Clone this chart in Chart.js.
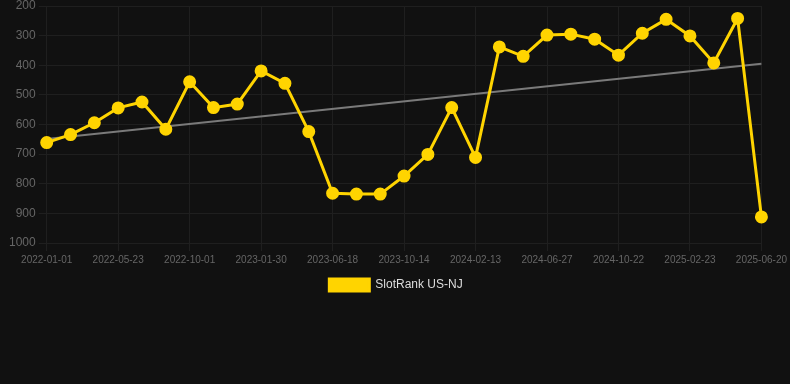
<!DOCTYPE html>
<html>
<head>
<meta charset="utf-8">
<script src="https://cdn.jsdelivr.net/npm/chart.js@4"></script>
<style>
  html, body { margin: 0; padding: 0; background: #111111; overflow: hidden; }
  #wrap { width: 790px; height: 303px; margin-top: -2px; position: relative; }
</style>
</head>
<body>
<div id="wrap"><canvas id="plot-rank"></canvas></div>
<script>
// dates of each sample (every 3rd one shows as a tick)
const dates = [
  '2022-01-01', '2022-02-16', '2022-04-07', '2022-05-23', '2022-07-08', '2022-08-16',
  '2022-10-01', '2022-11-15', '2022-12-20', '2023-01-30', '2023-03-17', '2023-05-02',
  '2023-06-18', '2023-08-01', '2023-08-30', '2023-10-14', '2023-11-26', '2024-01-01',
  '2024-02-13', '2024-03-30', '2024-05-14', '2024-06-27', '2024-08-10', '2024-09-08',
  '2024-10-22', '2024-12-05', '2025-01-12', '2025-02-23', '2025-04-06', '2025-05-15',
  '2025-06-20'
];
const rankNJ = [
  661, 634, 594, 544, 524, 616, 456, 543, 531, 419, 461, 624,
  832, 835, 835, 774, 701, 543, 711, 338, 370, 298, 295, 312,
  366, 292, 245, 301, 392, 242, 912
];
// trend line, read at its two ends
const trendStart = 649;
const trendEnd = 395;

const trendData = dates.map((d, i) => i === 0 ? trendStart : (i === dates.length - 1 ? trendEnd : null));

const ctx = document.getElementById('plot-rank').getContext('2d');
const chart = new Chart(ctx, {
  type: 'line',
  data: {
    labels: dates,
    datasets: [{
      label: 'SlotRank US-NJ',
      data: rankNJ,
      borderColor: '#ffd400',
      backgroundColor: '#ffd400',
      borderWidth: 3,
      pointRadius: 5,
      pointHoverRadius: 5,
      tension: 0
    }, {
      label: 'trend',
      data: trendData,
      borderColor: '#7a7a7a',
      borderWidth: 2,
      pointRadius: 0,
      spanGaps: true
    }]
  },
  options: {
    responsive: true,
    maintainAspectRatio: false,
    animation: false,
    layout: { padding: { left: 6, right: 4, top: 0, bottom: 0 } },
    plugins: {
      legend: {
        position: 'bottom',
        labels: {
          color: '#dddddd',
          font: { size: 12 },
          boxWidth: 40,
          boxHeight: 12,
          filter: item => item.text !== 'trend'
        }
      },
      tooltip: { enabled: false }
    },
    scales: {
      x: {
        grid: { color: '#1f1f1f', drawTicks: true },
        border: { display: false },
        ticks: { color: '#666666', font: { size: 10 }, maxRotation: 0, autoSkip: true }
      },
      y: {
        reverse: true,
        min: 200,
        max: 1000,
        grid: { color: '#1f1f1f' },
        border: { display: false },
        ticks: { color: '#666666', font: { size: 12, lineHeight: 0.3 }, stepSize: 100, callback: v => String(v) }
      }
    }
  }
});
</script>
</body>
</html>
